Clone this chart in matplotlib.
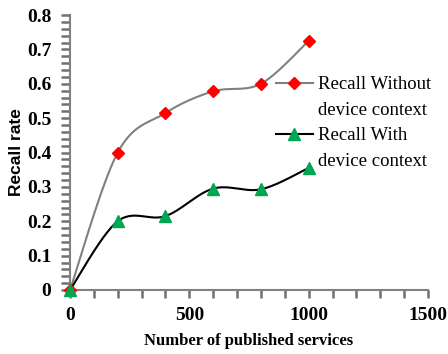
import numpy as np
import matplotlib
matplotlib.use("Agg")
import matplotlib.pyplot as plt
from matplotlib.lines import Line2D
from matplotlib.ticker import MultipleLocator

services = [0, 200, 400, 600, 800, 1000]
recall_without = [0, 0.40, 0.515, 0.578, 0.60, 0.725]
recall_with = [0, 0.20, 0.215, 0.295, 0.293, 0.355]
label_without = ["Recall Without", "device context"]
label_with = ["Recall With", "device context"]
xticks = [0, 500, 1000, 1500]
yticks = [0, 0.1, 0.2, 0.3, 0.4, 0.5, 0.6, 0.7, 0.8]


def smooth(x, y, n=30):
    """Bezier smoothing like Excel's smoothed lines."""
    x = np.asarray(x, float)
    y = np.asarray(y, float)
    P = np.column_stack([x, y])
    P = np.vstack([P[0], P, P[-1]])
    out = []
    for i in range(1, len(P) - 2):
        p0, p1, p2, p3 = P[i - 1], P[i], P[i + 1], P[i + 2]
        c1 = p1 + (p2 - p0) / 6.0
        c2 = p2 - (p3 - p1) / 6.0
        t = np.linspace(0, 1, n)[:, None]
        seg = ((1 - t) ** 3) * p1 + 3 * ((1 - t) ** 2) * t * c1 + 3 * (1 - t) * t ** 2 * c2 + t ** 3 * p2
        out.append(seg if i == 1 else seg[1:])
    out = np.vstack(out)
    return out[:, 0], out[:, 1]


fig = plt.figure(figsize=(4.48, 3.54), dpi=100)
ax = fig.add_axes([70 / 448, 1 - 290 / 354, (428 - 70) / 448, (290 - 15) / 354])

gray = "#808080"
tickgray = "#707070"
red = "#ff0000"
green = "#00a651"

sx, sy = smooth(services, recall_without)
ax.plot(sx, sy, color=gray, lw=1.5, zorder=2, clip_on=False)
ax.plot(services, recall_without, linestyle="none", marker="D", color=red,
        markersize=6.5, zorder=3, clip_on=False)
gx, gy = smooth(services, recall_with)
ax.plot(gx, gy, color="black", lw=1.5, zorder=2, clip_on=False)
ax.plot(services, recall_with, linestyle="none", marker="^", color=green,
        markersize=8, zorder=4, clip_on=False)

ax.set_xlim(0, 1500)
ax.set_ylim(0, 0.8)
ax.set_xticks(xticks)
ax.set_yticks(yticks)
ax.set_yticklabels(["0" if v == 0 else f"{v:.1f}" for v in yticks])
ax.xaxis.set_minor_locator(MultipleLocator(100))
ax.yaxis.set_minor_locator(MultipleLocator(0.02))

for s in ["top", "right"]:
    ax.spines[s].set_visible(False)
for s in ["left", "bottom"]:
    ax.spines[s].set_color(gray)
    ax.spines[s].set_linewidth(1.5)

ax.tick_params(axis="x", which="major", direction="out", color=tickgray, width=1.8, length=6, pad=6)
ax.tick_params(axis="x", which="minor", direction="out", color=tickgray, width=1.8, length=6)
ax.tick_params(axis="y", which="major", direction="out", color=tickgray, width=1.8, length=6.5, pad=7)
ax.tick_params(axis="y", which="minor", direction="out", color=tickgray, width=1.8, length=6.5)
for lab in ax.get_xticklabels() + ax.get_yticklabels():
    lab.set_fontfamily("Liberation Serif")
    lab.set_fontweight("bold")
    lab.set_fontsize(14)

ax.set_xlabel("Number of published services", fontfamily="Liberation Serif",
              fontweight="bold", fontsize=12, labelpad=7)
ax.set_ylabel("Recall rate", fontfamily="Liberation Sans", fontweight="bold",
              fontsize=12.5, labelpad=2)

h_red = Line2D([], [], color=gray, lw=1.5, marker="D", markerfacecolor=red,
               markeredgecolor=red, markersize=6.5)
h_green = Line2D([], [], color="black", lw=1.5, marker="^", markerfacecolor=green,
                 markeredgecolor=green, markersize=8)
blank = Line2D([], [], linestyle="none", marker="none")
leg = fig.legend([h_red, blank, h_green, blank],
                 [label_without[0], label_without[1], label_with[0], label_with[1]],
                 loc="upper left", bbox_to_anchor=(276 / 448, 1 - 76 / 354),
                 frameon=False, borderpad=0, borderaxespad=0,
                 handlelength=1.95, handletextpad=0.3, labelspacing=0.45,
                 prop=dict(family="Liberation Serif", size=13.5))

fig.savefig("out.png", dpi=100)
